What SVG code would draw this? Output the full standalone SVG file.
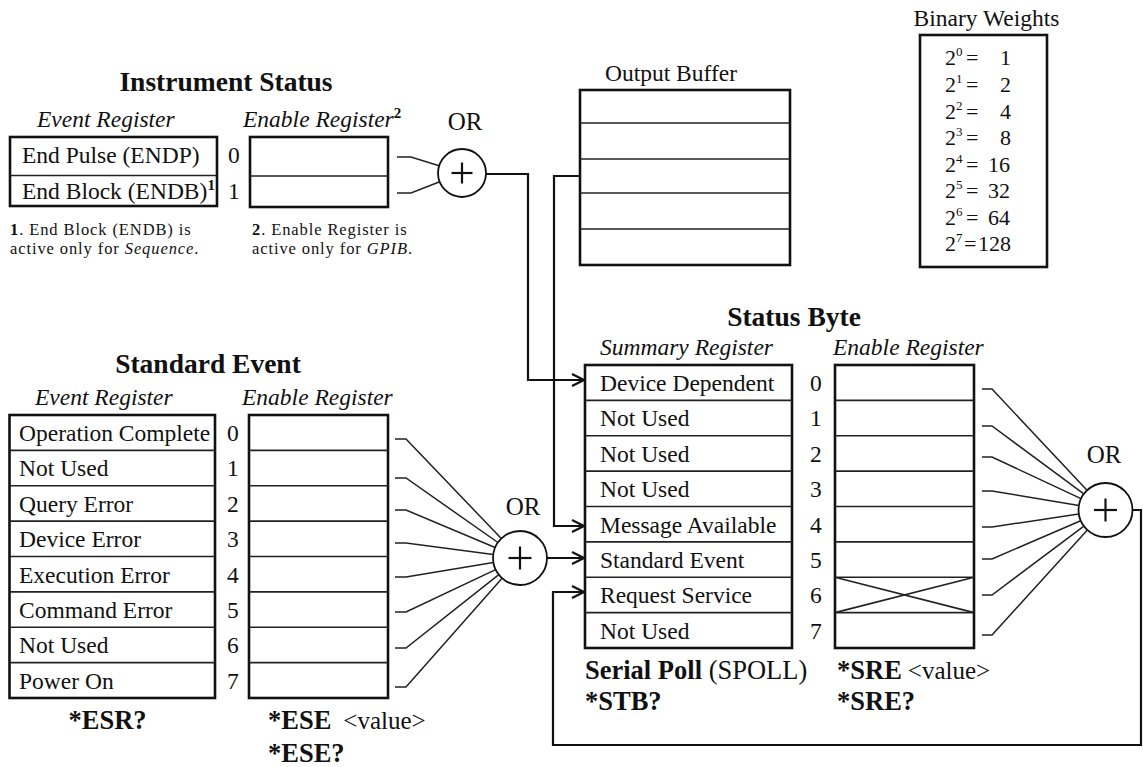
<svg xmlns="http://www.w3.org/2000/svg" width="1143" height="767" viewBox="0 0 1143 767">
  <style>
    text { font-family: "Liberation Serif", "Times New Roman", serif; fill: #111; }
    .lbl { font-size: 23.5px; }
    .ital { font-size: 23.5px; font-style: italic; }
    .title { font-size: 27.5px; font-weight: bold; text-anchor: middle; }
    .cmd { font-size: 26.5px; font-weight: bold; }
    .val { font-size: 25px; font-weight: normal; }
    .note { font-size: 16.5px; letter-spacing: 0.9px; }
    .orl { font-size: 25px; text-anchor: middle; }
    .bw { font-size: 22px; }
    .sup { font-size: 13px; }
    .box { fill: #fff; stroke: #111; stroke-width: 2.6; }
    .div { stroke: #222; stroke-width: 1.6; }
    .gate { fill: #fff; stroke: #111; stroke-width: 1.8; }
    .plus { stroke: #111; stroke-width: 2.2; }
    .wire { fill: none; stroke: #222; stroke-width: 1.5; }
    .flow { fill: none; stroke: #111; stroke-width: 2.2; }
  </style>
  <defs>
    <marker id="head" markerUnits="userSpaceOnUse" markerWidth="16" markerHeight="14" refX="13" refY="7" orient="auto">
      <path d="M1,1 L13,7 L1,13" fill="none" stroke="#111" stroke-width="2.2"/>
    </marker>
  </defs>
  <rect width="1143" height="767" fill="#fff"/>

  <!-- Instrument Status -->
  <g id="instrument-status">
    <text class="title" x="226" y="91">Instrument Status</text>
    <text class="ital" x="37" y="127">Event Register</text>
    <text class="ital" x="243" y="127">Enable Register<tspan font-style="normal" font-weight="bold" font-size="15" dy="-9">2</tspan></text>
  </g>
  <g id="instrument-event-register">
    <rect class="box" x="10" y="137" width="207" height="69"/>
    <line class="div" x1="10" y1="175.5" x2="217" y2="175.5"/>
    <text class="lbl" x="22" y="163">End Pulse (ENDP)</text>
    <text class="lbl" x="22" y="199">End Block (ENDB)<tspan font-weight="bold" font-size="15" dy="-9">1</tspan></text>
    <text class="lbl" x="228" y="163">0</text>
    <text class="lbl" x="228" y="199">1</text>
  </g>
  <g id="instrument-enable-register">
    <rect class="box" x="250" y="137" width="138" height="70"/>
    <line class="div" x1="250" y1="176" x2="388" y2="176"/>
  </g>
  <g id="footnotes">
    <text class="note" x="10" y="235"><tspan font-weight="bold">1</tspan>. End Block (ENDB) is</text>
    <text class="note" x="10" y="253.5">active only for <tspan font-style="italic">Sequence</tspan>.</text>
    <text class="note" x="252" y="235"><tspan font-weight="bold">2</tspan>. Enable Register is</text>
    <text class="note" x="252" y="253.5">active only for <tspan font-style="italic">GPIB</tspan>.</text>
  </g>
  <g id="or-instrument">
    <text class="orl" x="465" y="130">OR</text>
    <circle class="gate" cx="462" cy="173" r="24"/>
    <line class="plus" x1="451.5" y1="173" x2="472.5" y2="173"/>
    <line class="plus" x1="462" y1="162.5" x2="462" y2="183.5"/>
  </g>

  <!-- Output Buffer -->
  <g id="output-buffer">
    <text class="lbl" x="671" y="81" text-anchor="middle">Output Buffer</text>
    <rect class="box" x="580" y="90" width="210" height="175"/>
    <line class="div" x1="580" y1="123" x2="790" y2="123"/>
    <line class="div" x1="580" y1="159" x2="790" y2="159"/>
    <line class="div" x1="580" y1="193" x2="790" y2="193"/>
    <line class="div" x1="580" y1="229" x2="790" y2="229"/>
  </g>

  <!-- Binary Weights -->
  <g id="binary-weights">
    <text class="lbl" x="986.5" y="26" text-anchor="middle">Binary Weights</text>
    <rect class="box" x="920" y="35" width="127" height="232"/>
    <text class="bw" x="945" y="65">2<tspan class="sup" dy="-9">0</tspan><tspan x="966" dy="9">=</tspan><tspan x="1000">1</tspan></text>
    <text class="bw" x="945" y="92">2<tspan class="sup" dy="-9">1</tspan><tspan x="966" dy="9">=</tspan><tspan x="1000">2</tspan></text>
    <text class="bw" x="945" y="118.5">2<tspan class="sup" dy="-9">2</tspan><tspan x="966" dy="9">=</tspan><tspan x="1000">4</tspan></text>
    <text class="bw" x="945" y="145">2<tspan class="sup" dy="-9">3</tspan><tspan x="966" dy="9">=</tspan><tspan x="1000">8</tspan></text>
    <text class="bw" x="945" y="171.5">2<tspan class="sup" dy="-9">4</tspan><tspan x="966" dy="9">=</tspan><tspan x="988">16</tspan></text>
    <text class="bw" x="945" y="198">2<tspan class="sup" dy="-9">5</tspan><tspan x="966" dy="9">=</tspan><tspan x="988">32</tspan></text>
    <text class="bw" x="945" y="224.5">2<tspan class="sup" dy="-9">6</tspan><tspan x="966" dy="9">=</tspan><tspan x="988">64</tspan></text>
    <text class="bw" x="945" y="251">2<tspan class="sup" dy="-9">7</tspan><tspan x="964" dy="9">=</tspan><tspan x="978">128</tspan></text>
  </g>

  <!-- Standard Event -->
  <g id="standard-event">
    <text class="title" x="208" y="373">Standard Event</text>
    <text class="ital" x="35" y="405">Event Register</text>
    <text class="ital" x="242" y="405">Enable Register</text>
  </g>
  <g id="standard-event-register">
    <rect class="box" x="9.5" y="415" width="205.5" height="283"/>
    <line class="div" x1="9.5" y1="450.4" x2="215" y2="450.4"/>
    <line class="div" x1="9.5" y1="485.8" x2="215" y2="485.8"/>
    <line class="div" x1="9.5" y1="521.1" x2="215" y2="521.1"/>
    <line class="div" x1="9.5" y1="556.5" x2="215" y2="556.5"/>
    <line class="div" x1="9.5" y1="591.9" x2="215" y2="591.9"/>
    <line class="div" x1="9.5" y1="627.3" x2="215" y2="627.3"/>
    <line class="div" x1="9.5" y1="662.6" x2="215" y2="662.6"/>
    <text class="lbl" x="19" y="441">Operation Complete</text>
    <text class="lbl" x="19" y="476.4">Not Used</text>
    <text class="lbl" x="19" y="511.8">Query Error</text>
    <text class="lbl" x="19" y="547.1">Device Error</text>
    <text class="lbl" x="19" y="582.5">Execution Error</text>
    <text class="lbl" x="19" y="617.9">Command Error</text>
    <text class="lbl" x="19" y="653.3">Not Used</text>
    <text class="lbl" x="19" y="688.6">Power On</text>
    <text class="lbl" x="227" y="441">0</text>
    <text class="lbl" x="227" y="476.4">1</text>
    <text class="lbl" x="227" y="511.8">2</text>
    <text class="lbl" x="227" y="547.1">3</text>
    <text class="lbl" x="227" y="582.5">4</text>
    <text class="lbl" x="227" y="617.9">5</text>
    <text class="lbl" x="227" y="653.3">6</text>
    <text class="lbl" x="227" y="688.6">7</text>
    <text class="cmd" x="107.5" y="729" text-anchor="middle">*ESR?</text>
  </g>
  <g id="standard-enable-register">
    <rect class="box" x="249" y="415" width="139" height="283"/>
    <line class="div" x1="249" y1="450.4" x2="388" y2="450.4"/>
    <line class="div" x1="249" y1="485.8" x2="388" y2="485.8"/>
    <line class="div" x1="249" y1="521.1" x2="388" y2="521.1"/>
    <line class="div" x1="249" y1="556.5" x2="388" y2="556.5"/>
    <line class="div" x1="249" y1="591.9" x2="388" y2="591.9"/>
    <line class="div" x1="249" y1="627.3" x2="388" y2="627.3"/>
    <line class="div" x1="249" y1="662.6" x2="388" y2="662.6"/>
    <text class="cmd" x="268" y="729">*ESE<tspan class="val" dx="12">&lt;value&gt;</tspan></text>
    <text class="cmd" x="268" y="762">*ESE?</text>
  </g>
  <g id="or-standard">
    <text class="orl" x="523" y="515">OR</text>
    <circle class="gate" cx="520" cy="558" r="27"/>
    <line class="plus" x1="508.5" y1="558" x2="531.5" y2="558"/>
    <line class="plus" x1="520" y1="546.5" x2="520" y2="569.5"/>
  </g>

  <!-- Status Byte -->
  <g id="status-byte">
    <text class="title" x="794" y="326">Status Byte</text>
    <text class="ital" x="600" y="355">Summary Register</text>
    <text class="ital" x="833" y="355">Enable Register</text>
  </g>
  <g id="status-summary-register">
    <rect class="box" x="585" y="365" width="207" height="283"/>
    <line class="div" x1="585" y1="400.4" x2="792" y2="400.4"/>
    <line class="div" x1="585" y1="435.8" x2="792" y2="435.8"/>
    <line class="div" x1="585" y1="471.1" x2="792" y2="471.1"/>
    <line class="div" x1="585" y1="506.5" x2="792" y2="506.5"/>
    <line class="div" x1="585" y1="541.9" x2="792" y2="541.9"/>
    <line class="div" x1="585" y1="577.3" x2="792" y2="577.3"/>
    <line class="div" x1="585" y1="612.6" x2="792" y2="612.6"/>
    <text class="lbl" x="600" y="391">Device Dependent</text>
    <text class="lbl" x="600" y="426.4">Not Used</text>
    <text class="lbl" x="600" y="461.8">Not Used</text>
    <text class="lbl" x="600" y="497.1">Not Used</text>
    <text class="lbl" x="600" y="532.5">Message Available</text>
    <text class="lbl" x="600" y="567.9">Standard Event</text>
    <text class="lbl" x="600" y="603.3">Request Service</text>
    <text class="lbl" x="600" y="638.6">Not Used</text>
    <text class="lbl" x="810" y="391">0</text>
    <text class="lbl" x="810" y="426.4">1</text>
    <text class="lbl" x="810" y="461.8">2</text>
    <text class="lbl" x="810" y="497.1">3</text>
    <text class="lbl" x="810" y="532.5">4</text>
    <text class="lbl" x="810" y="567.9">5</text>
    <text class="lbl" x="810" y="603.3">6</text>
    <text class="lbl" x="810" y="638.6">7</text>
    <text class="cmd" x="585" y="679">Serial Poll<tspan font-weight="normal"> (SPOLL)</tspan></text>
    <text class="cmd" x="585" y="710">*STB?</text>
  </g>
  <g id="status-enable-register">
    <rect class="box" x="835" y="365" width="139" height="283"/>
    <line class="div" x1="835" y1="400.4" x2="974" y2="400.4"/>
    <line class="div" x1="835" y1="435.8" x2="974" y2="435.8"/>
    <line class="div" x1="835" y1="471.1" x2="974" y2="471.1"/>
    <line class="div" x1="835" y1="506.5" x2="974" y2="506.5"/>
    <line class="div" x1="835" y1="541.9" x2="974" y2="541.9"/>
    <line class="div" x1="835" y1="577.3" x2="974" y2="577.3"/>
    <line class="div" x1="835" y1="612.6" x2="974" y2="612.6"/>
    <!-- bit 6 is masked out -->
    <line class="div" x1="835" y1="577.3" x2="974" y2="612.6"/>
    <line class="div" x1="835" y1="612.6" x2="974" y2="577.3"/>
    <text class="cmd" x="837" y="679">*SRE<tspan class="val" dx="6">&lt;value&gt;</tspan></text>
    <text class="cmd" x="837" y="710">*SRE?</text>
  </g>
  <g id="or-status">
    <text class="orl" x="1104" y="463">OR</text>
    <circle class="gate" cx="1105.5" cy="510" r="27"/>
    <line class="plus" x1="1094" y1="510" x2="1117" y2="510"/>
    <line class="plus" x1="1105.5" y1="498.5" x2="1105.5" y2="521.5"/>
  </g>

  <!-- Connectors -->
  <g id="connectors">
    <!-- instrument enable bits into OR -->
    <polyline class="wire" points="397,157 411,157 439.1,165.8"/>
    <polyline class="wire" points="397,193 411,193 439.7,181.8"/>
    <!-- standard event enable bits into OR -->
    <polyline class="wire" points="395,439 406,439 501.3,538.5"/>
    <polyline class="wire" points="395,478 406,478 497.9,542.5"/>
    <polyline class="wire" points="395,510 406,510 495.1,547.5"/>
    <polyline class="wire" points="395,543 406,543 493.2,554.5"/>
    <polyline class="wire" points="395,577 406,577 493.4,562.4"/>
    <polyline class="wire" points="395,612 406,612 495.6,569.6"/>
    <polyline class="wire" points="395,648 406,648 498.8,574.7"/>
    <polyline class="wire" points="395,687 406,687 502.1,578.2"/>
    <!-- status byte enable bits into OR -->
    <polyline class="wire" points="982,389 992,389 1087.0,490.3"/>
    <polyline class="wire" points="982,426 992,426 1083.8,493.9"/>
    <polyline class="wire" points="982,457 992,457 1081.0,498.6"/>
    <polyline class="wire" points="982,491 992,491 1078.9,505.5"/>
    <polyline class="wire" points="982,527 992,527 1078.8,514.0"/>
    <polyline class="wire" points="982,559 992,559 1080.7,520.7"/>
    <polyline class="wire" points="982,595 992,595 1083.9,526.2"/>
    <polyline class="wire" points="982,635 992,635 1087.4,530.0"/>
    <!-- summary lines into the status byte -->
    <path class="flow" d="M486,174 H528 V380 H584" marker-end="url(#head)"/>
    <path class="flow" d="M580,176 H554 V526 H584" marker-end="url(#head)"/>
    <path class="flow" d="M547,558 H584" marker-end="url(#head)"/>
    <path class="flow" d="M1132.5,510 H1141 V745 H553 V592 H584" marker-end="url(#head)"/>
  </g>
</svg>
